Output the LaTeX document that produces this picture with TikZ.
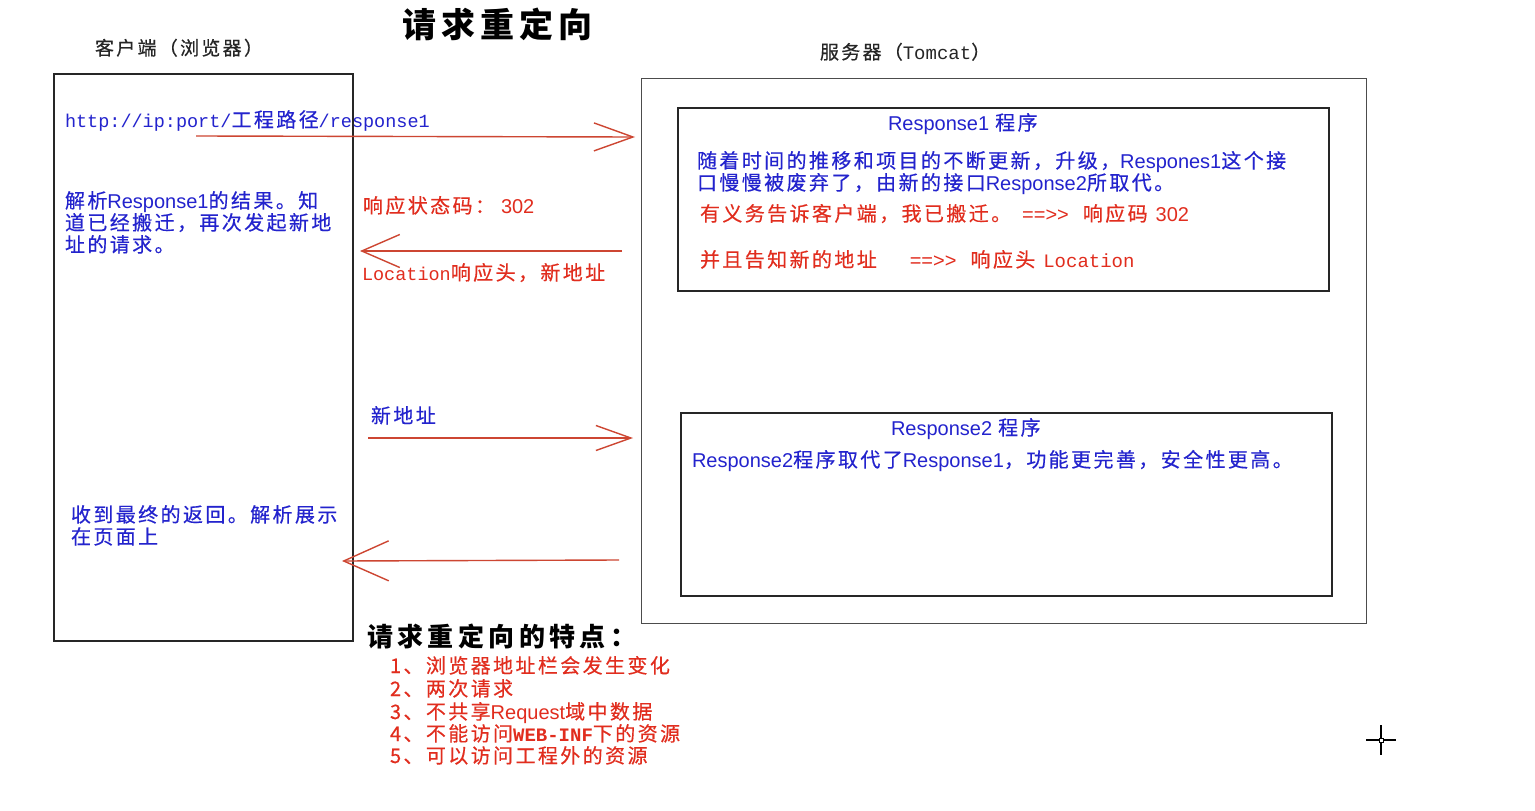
\documentclass[tikz,border=0pt]{standalone}
\usepackage{fontspec}
\setmainfont{Noto Sans CJK SC}[LetterSpace=12,FakeBold=0.4]
\newfontfamily\lat{Liberation Sans}
\newfontfamily\mon{Liberation Mono}
\newfontfamily\ttlfont{Noto Sans CJK SC}[LetterSpace=15]
\newfontfamily\subfont{Noto Sans CJK SC}[LetterSpace=17]
\usetikzlibrary{arrows.meta}
\definecolor{tblue}{RGB}{35,35,205}
\definecolor{tred}{RGB}{225,45,30}
\definecolor{ared}{RGB}{205,70,50}
\begin{document}
\begin{tikzpicture}[x=1pt,y=-1pt,
  txt/.style={anchor=base west,inner sep=0pt,outer sep=0pt,font=\fontsize{20}{22}\selectfont},
  lbl/.style={txt,font=\fontsize{19}{22}\selectfont,text=black!85},
  bl/.style={txt,text=tblue},
  rd/.style={txt,text=tred},
  frame/.style={draw=black!85,line width=1.5pt,anchor=north west,inner sep=0pt},
  sframe/.style={draw=black!70,line width=1.4pt,anchor=north west,inner sep=0pt},
  msg/.style={draw=ared,line width=1.4pt}
]
\useasboundingbox[fill=white] (0,0) rectangle (1535,811);

% boxes
\node[frame,minimum width=299pt,minimum height=567pt] (client) at (53,73) {};
\node[sframe,minimum width=725pt,minimum height=545pt] (server) at (641,78) {};
\node[frame,minimum width=651pt,minimum height=183pt] (resp1) at (677,107) {};
\node[frame,minimum width=651pt,minimum height=183pt] (resp2) at (680,412) {};

% titles
\node[txt,font=\ttlfont\bfseries\fontsize{34}{40}\selectfont] (title) at (402,37) {请求重定向};
\node[lbl] (clientlbl) at (95,55) {客户端（浏览器）};
\node[lbl] (serverlbl) at (820,59) {服务器（{\mon Tomcat}）};

% client texts
\node[bl] (url) at (65,127) {{\mon\fontsize{18.5}{22}\selectfont http://ip:port/}工程路径{\mon\fontsize{18.5}{22}\selectfont /response1}};
\node[bl] (parse1) at (65,208) {解析{\lat Response1}的结果。知};
\node[bl] (parse2) at (65,230) {道已经搬迁，再次发起新地};
\node[bl] (parse3) at (65,252) {址的请求。};
\node[bl] (final1) at (71,522) {收到最终的返回。解析展示};
\node[bl] (final2) at (71,544) {在页面上};

% message labels
\node[rd] (status) at (363,213) {响应状态码：\hspace*{6pt}{\lat 302}};
\node[rd] (loc) at (362,280) {{\mon\fontsize{18.5}{22}\selectfont Location}响应头，新地址};
\node[bl] (newaddr) at (371,423) {新地址};

% response1 texts
\node[bl] (r1title) at (888,130) {{\lat Response1}\hspace*{6pt}程序};
\node[bl] (r1l1) at (697,168) {随着时间的推移和项目的不断更新，升级，{\lat Respones1}这个接};
\node[bl] (r1l2) at (697,190) {口慢慢被废弃了，由新的接口{\lat Response2}所取代。};
\node[rd] (r1l3) at (700,221) {有义务告诉客户端，我已搬迁。\hspace*{11pt}{\lat ==>>}\hspace*{14pt}响应码\hspace*{8pt}{\lat 302}};
\node[rd] (r1l4) at (700,267) {并且告知新的地址\hspace*{33pt}{\lat ==>>}\hspace*{14pt}响应头\hspace*{8pt}{\mon\fontsize{19}{22}\selectfont Location}};

% response2 texts
\node[bl] (r2title) at (891,435) {{\lat Response2}\hspace*{6pt}程序};
\node[bl] (r2l1) at (692,467) {{\lat Response2}程序取代了{\lat Response1}，功能更完善，安全性更高。};

% arrows
\coordinate (a1s) at (196,136); \coordinate (a1e) at (635,137);
\coordinate (a2s) at (622,251); \coordinate (a2e) at (360,251);
\coordinate (a3s) at (368,438); \coordinate (a3e) at (633,438);
\coordinate (a4s) at (619,560); \coordinate (a4e) at (342,561);
\draw[msg,-{Straight Barb[length=39pt,width=28pt]}] (a1s) -- (a1e);
\draw[msg,-{Straight Barb[length=38pt,width=33pt]}] (a2s) -- (a2e);
\draw[msg,-{Straight Barb[length=35pt,width=25pt]}] (a3s) -- (a3e);
\draw[msg,-{Straight Barb[length=45pt,width=40pt]}] (a4s) -- (a4e);

% features
\node[txt,font=\subfont\bfseries\fontsize{26}{30}\selectfont] (feat) at (367,646) {请求重定向的特点：};
\node[rd] (f1) at (390,673) {1、浏览器地址栏会发生变化};
\node[rd] (f2) at (390,696) {2、两次请求};
\node[rd] (f3) at (390,719) {3、不共享{\lat Request}域中数据};
\node[rd] (f4) at (390,741) {4、不能访问{\mon\bfseries\fontsize{19}{22}\selectfont WEB-INF}下的资源};
\node[rd] (f5) at (390,763) {5、可以访问工程外的资源};

% cursor
\draw[line width=1.5pt] (1366,740) -- (1396,740) (1381,725) -- (1381,755);
\node[draw,fill=white,minimum size=4pt,inner sep=0pt,line width=1pt] (cursor) at (1381,740) {};
\end{tikzpicture}
\end{document}
